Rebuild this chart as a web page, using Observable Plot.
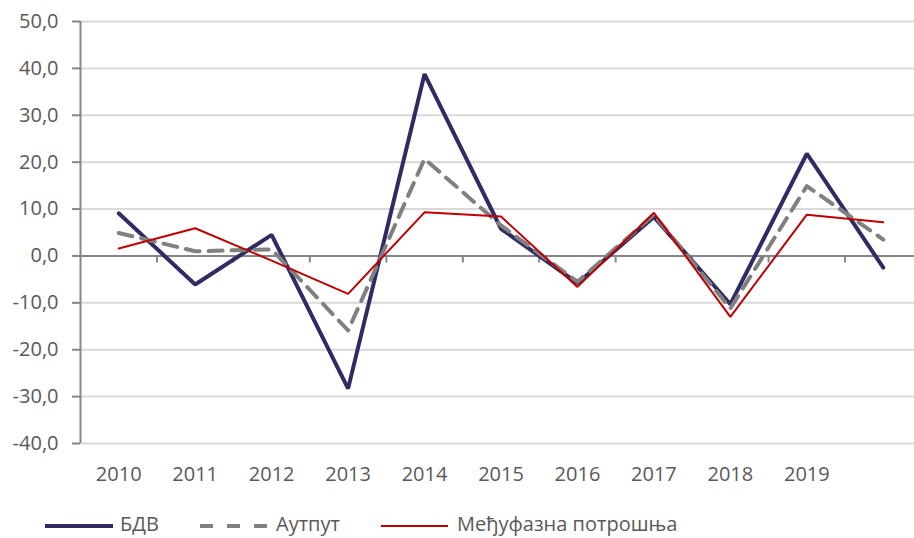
<!DOCTYPE html>
<html><head><meta charset="utf-8">
<script src="https://cdn.jsdelivr.net/npm/d3@7"></script>
<script src="https://cdn.jsdelivr.net/npm/@observablehq/plot@0.6"></script>
<style>
body{margin:0;background:#fff;}
#chart svg{display:block;}
</style>
</head><body>
<div id="chart"></div>
<div id="legend"></div>
<script>
const years = [2010,2011,2012,2013,2014,2015,2016,2017,2018,2019,2020];
const xLabels = [2010,2011,2012,2013,2014,2015,2016,2017,2018,2019];
const bdv = [9.1,-6.1,4.5,-28.3,38.8,5.8,-5.8,8.3,-10.3,21.8,-2.5];
const output = [4.9,1.0,1.4,-15.9,20.7,6.5,-5.5,8.8,-11.2,14.9,3.5];
const interm = [1.6,5.9,-1.0,-8.1,9.3,8.4,-6.6,9.2,-13.0,8.8,7.2];
const yTicks = [-40,-30,-20,-10,0,10,20,30,40,50];
const seriesNames = ["БДВ","Аутпут","Међуфазна потрошња"];

const navy = "#2e2c63", gray = "#808080", red = "#c00000";
const axisGray = "#868686", textGray = "#595959";
const font = "'Open Sans', 'Noto Sans', sans-serif";

const rows = (vals) => years.map((y,i)=>({year:y, v:vals[i]}));
const mids = years.slice(0,-1).map(y=>y+0.5);

const chart = Plot.plot({
  width: 914, height: 500,
  marginLeft: 80, marginRight: 0, marginTop: 21, marginBottom: 57,
  style: {fontFamily: font, fontSize: "20px", background: "#fff"},
  x: {domain:[2009.5, 2020.5], range:[80, 921]},
  y: {domain:[-40, 50]},
  marks: [
    Plot.ruleY(yTicks.filter(d=>d!==0), {stroke:"#d9d9d9", strokeWidth:2}),
    Plot.ruleX([2009.5], {y1:-40, y2:50, stroke:axisGray, strokeWidth:2}),
    Plot.axisY({ticks:yTicks, tickSize:8, stroke:axisGray, strokeWidth:2, fill:"none", label:null}),
    Plot.axisY({ticks:yTicks, tickSize:0, tickPadding:22, fill:textGray, stroke:"none", label:null,
      tickFormat: d => d.toFixed(1).replace(".", ","), fontSize:20}),
    Plot.ruleY([0], {stroke:axisGray, strokeWidth:2}),
    Plot.ruleX(mids, {y1:0, y2:-1.5, stroke:axisGray, strokeWidth:2}),
    Plot.axisX({ticks:xLabels, tickSize:0, tickPadding:23, fill:textGray, stroke:"none", label:null,
      tickFormat: d => String(d), fontSize:20}),
    Plot.line(rows(bdv), {x:"year", y:"v", stroke:navy, strokeWidth:4, strokeLinejoin:"miter"}),
    Plot.line(rows(output), {x:"year", y:"v", stroke:gray, strokeWidth:4, strokeDasharray:"14,9", strokeLinejoin:"round"}),
    Plot.line(rows(interm), {x:"year", y:"v", stroke:red, strokeWidth:2, strokeLinejoin:"miter"})
  ]
});
document.getElementById("chart").appendChild(chart);

// legend
const lg = d3.select("#legend").append("svg").attr("width",914).attr("height",38)
  .style("display","block").style("font-family",font);
const items = [
  {name:seriesNames[0], x1:45, x2:113, tx:120, stroke:navy, w:4, dash:null},
  {name:seriesNames[1], x1:200, x2:268, tx:276, stroke:gray, w:4, dash:"13,14"},
  {name:seriesNames[2], x1:381, x2:448, tx:457, stroke:red, w:2, dash:null}
];
items.forEach(it=>{
  lg.append("line").attr("x1",it.x1).attr("x2",it.x2).attr("y1",26).attr("y2",26)
    .attr("stroke",it.stroke).attr("stroke-width",it.w).attr("stroke-dasharray",it.dash);
  lg.append("text").attr("x",it.tx).attr("y",24).attr("dy","0.35em")
    .attr("fill",textGray).attr("font-size",20).text(it.name);
});
</script>
</body></html>
